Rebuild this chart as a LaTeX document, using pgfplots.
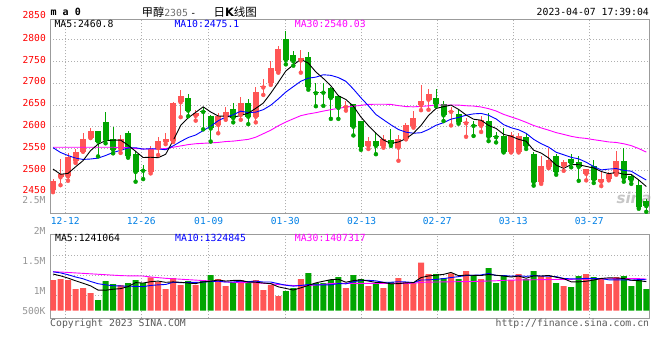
\documentclass[border=0pt]{standalone}
\usepackage{fontspec}
\setmainfont{DejaVu Sans}
\setmonofont{DejaVu Sans Mono}
\newfontfamily\cjk{Noto Sans CJK SC}
\newfontfamily\monof{DejaVu Sans Mono}
\newfontfamily\sansb{DejaVu Sans}
\usepackage{pgfplots}
\usepackage{pgfplotstable}
\pgfplotsset{compat=1.18}

\definecolor{upred}{RGB}{255,85,85}
\definecolor{dngreen}{RGB}{0,165,0}
\definecolor{pricered}{RGB}{255,0,0}
\definecolor{datecol}{RGB}{0,128,230}
\definecolor{ma10c}{RGB}{0,0,255}
\definecolor{ma30c}{RGB}{255,0,255}
\definecolor{volgray}{RGB}{150,150,150}
\definecolor{txtgray}{RGB}{90,90,90}
\definecolor{gridgray}{RGB}{175,175,175}
\definecolor{framegray}{RGB}{155,155,155}
\definecolor{titlegray}{RGB}{110,110,110}

\newcommand\labfont{\monof\fontsize{9.6}{11}\selectfont}
\newcommand\txtfont{\monof\fontsize{9.8}{11}\selectfont}

\pgfplotstableread{
i o h l c
0 2454 2481 2450 2476
1 2484 2525 2466 2492
2 2486 2539 2476 2530
3 2522 2548 2517 2541
4 2543 2586 2543 2572
5 2575 2596 2574 2591
9 2549 2580 2540 2573
13 2497 2555 2493 2550
14 2551 2577 2535 2568
15 2566 2585 2560 2571
16 2567 2657 2565 2655
17 2656 2685 2622 2671
19 2625 2639 2614 2631
22 2604 2631 2585 2625
23 2622 2646 2616 2634
25 2627 2668 2616 2654
27 2623 2690 2610 2680
28 2690 2709 2673 2694
29 2700 2750 2696 2734
30 2727 2784 2724 2778
33 2752 2775 2724 2757
39 2645 2660 2637 2648
42 2556 2577 2549 2567
44 2556 2580 2552 2571
46 2552 2581 2522 2571
47 2573 2608 2571 2605
48 2601 2636 2598 2619
49 2649 2696 2638 2660
50 2662 2687 2639 2674
53 2634 2646 2603 2637
55 2608 2621 2577 2610
57 2602 2624 2588 2615
61 2543 2588 2541 2580
62 2543 2586 2541 2579
65 2473 2533 2469 2510
66 2507 2552 2505 2523
68 2511 2524 2499 2520
71 2492 2504 2477 2503
73 2474 2499 2464 2480
74 2480 2496 2477 2492
75 2492 2545 2490 2522
}\redc

\pgfplotstableread{
i o h l c
6 2591 2591 2532 2566
7 2611 2634 2562 2570
8 2572 2600 2539 2547
10 2585 2590 2529 2532
11 2537 2545 2474 2496
12 2501 2512 2480 2499
18 2666 2676 2624 2637
20 2636 2645 2594 2634
21 2625 2626 2566 2596
24 2640 2655 2610 2620
26 2654 2664 2606 2623
31 2801 2820 2743 2753
32 2765 2774 2740 2750
34 2760 2772 2685 2691
35 2680 2700 2647 2677
36 2680 2700 2648 2678
37 2689 2690 2618 2666
38 2671 2672 2618 2643
40 2651 2653 2580 2600
41 2613 2614 2547 2554
43 2567 2588 2537 2556
45 2569 2594 2556 2560
51 2667 2687 2647 2651
52 2652 2658 2613 2626
54 2630 2640 2607 2611
56 2604 2613 2579 2602
58 2612 2632 2567 2577
59 2578 2588 2564 2576
60 2579 2598 2541 2543
63 2577 2586 2549 2556
64 2537 2543 2465 2473
67 2533 2537 2490 2497
69 2527 2537 2507 2517
70 2518 2533 2476 2508
72 2511 2524 2471 2479
76 2522 2552 2474 2482
77 2488 2492 2469 2477
78 2467 2477 2412 2416
79 2429 2435 2405 2418
}\greenc

\pgfplotstableread{
i ma5 ma10 ma30
0 2503 2552 2553
1 2491 2541 2553
2 2493 2534 2553
3 2508 2528 2553
4 2522.2 2525 2553
5 2545.2 2526 2553
6 2560 2528 2553
7 2568 2534 2553
8 2569.2 2541 2553
9 2569.4 2545.8 2552
10 2557.6 2551.4 2552
11 2543.6 2551.8 2550
12 2529.4 2548.7 2549
13 2530 2549.6 2549
14 2529 2549.2 2549
15 2536.8 2547.2 2550
16 2568.6 2556.1 2553
17 2603 2566.2 2556
18 2620.4 2575.2 2559
19 2633 2581 2561
20 2645.6 2591.2 2562
21 2633.8 2601.2 2563
22 2624.6 2613.8 2564
23 2624 2622.2 2566
24 2621.8 2627.4 2567
25 2625.8 2635.7 2569
26 2631.2 2632.5 2571
27 2642.2 2633.4 2576
28 2654.2 2639.1 2584
29 2677 2649.4 2592.1
30 2701.8 2663.8 2602.1
31 2727.8 2679.5 2610.8
32 2741.8 2692 2618.2
33 2754.4 2704.3 2625.4
34 2745.8 2711.4 2629.3
35 2725.6 2713.7 2632.2
36 2710.6 2719.2 2635.9
37 2693.8 2717.8 2639.1
38 2671 2712.7 2642.3
39 2662.4 2704.1 2644.8
40 2647 2686.3 2647.1
41 2622.2 2666.4 2649
42 2602.4 2648.1 2651.3
43 2585 2628 2651.5
44 2569.6 2616 2651.6
45 2561.6 2604.3 2651.2
46 2565 2593.6 2648.4
47 2572.6 2587.5 2646.2
48 2585.2 2585.1 2645.6
49 2603 2586.3 2646.6
50 2625.8 2593.7 2647.9
51 2641.8 2603.4 2649.8
52 2646 2609.3 2649.8
53 2649.6 2617.4 2649.9
54 2639.8 2621.4 2649.6
55 2627 2626.4 2648.1
56 2617.2 2629.5 2647.4
57 2615 2630.5 2645.3
58 2603 2626.3 2641.4
59 2596 2617.9 2636.1
60 2582.6 2604.8 2628.3
61 2578.2 2597.7 2622.5
62 2571 2593 2616.8
63 2566.8 2584.9 2610.1
64 2546.2 2571.1 2602.8
65 2539.6 2561.1 2597.3
66 2528.2 2553.2 2592.1
67 2511.8 2541.4 2586.5
68 2504.6 2535.7 2582.4
69 2513.4 2529.8 2578
70 2513 2526.3 2574.9
71 2509 2518.6 2573.2
72 2505.4 2508.6 2570.3
73 2497.4 2501 2567.8
74 2492.4 2502.9 2565.1
75 2495.2 2504.1 2563.9
76 2491 2500 2560.9
77 2490.6 2498 2556.6
78 2477.8 2487.6 2549.9
79 2463 2477.7 2541.8
}\matab

\pgfplotstableread{
i v
0 1363000
1 1407000
2 1363000
3 963000
4 1007000
5 785000
9 1141000
13 1481000
14 1274000
15 963000
16 1452000
17 1141000
19 1141000
22 1407000
23 1096000
25 1363000
27 1363000
28 919000
29 1141000
30 652000
33 1407000
39 1007000
42 1096000
44 1007000
46 1452000
47 1274000
48 1230000
49 2133000
50 1630000
53 1659000
55 1763000
57 1407000
61 1363000
62 1630000
65 1541000
66 1496000
68 1096000
71 1630000
73 1452000
74 1185000
75 1496000
}\redv

\pgfplotstableread{
i v
6 474000
7 1319000
8 1185000
10 1230000
11 1363000
12 1230000
18 1319000
20 1363000
21 1585000
24 1274000
26 1230000
31 874000
32 1007000
34 1674000
35 1230000
36 1230000
37 1363000
38 1496000
40 1585000
41 1407000
43 1185000
45 1274000
51 1630000
52 1452000
54 1407000
56 1585000
58 1896000
59 1230000
60 1585000
63 1407000
64 1763000
67 1230000
69 1052000
70 1541000
72 1496000
76 1541000
77 1096000
78 1363000
79 963000
}\greenv

\pgfplotstableread{
i m5 m10 m30
0 1630000 1730000 1730000
1 1550000 1680000 1720000
2 1450000 1600000 1700000
3 1330000 1500000 1680000
4 1221000 1420000 1660000
5 1105000 1300000 1640000
6 918000 1200000 1620000
7 910000 1150000 1600000
8 954000 1110000 1580000
9 981000 1101000 1560000
10 1070000 1087000 1550000
11 1248000 1083000 1550000
12 1230000 1070000 1540000
13 1289000 1122000 1500000
14 1316000 1148000 1470000
15 1262000 1166000 1440000
16 1280000 1264000 1420000
17 1262000 1246000 1400000
18 1230000 1259000 1380000
19 1203000 1259000 1360000
20 1283000 1273000 1340000
21 1310000 1295000 1320000
22 1363000 1313000 1300000
23 1318000 1274000 1280000
24 1345000 1274000 1260000
25 1345000 1314000 1250000
26 1274000 1292000 1245000
27 1265000 1314000 1240000
28 1230000 1274000 1220000
29 1203000 1274000 1200000
30 1061000 1203000 1160000
31 990000 1132000 1140000
32 919000 1092000 1120000
33 1016000 1123000 1110000
34 1123000 1163000 1120000
35 1238000 1150000 1140000
36 1310000 1150000 1170000
37 1381000 1150000 1210000
38 1399000 1207000 1215000
39 1265000 1194000 1215000
40 1336000 1287000 1215000
41 1372000 1341000 1215000
42 1318000 1350000 1215000
43 1256000 1327000 1215000
44 1256000 1261000 1215000
45 1194000 1265000 1215000
46 1203000 1287000 1215000
47 1238000 1278000 1215000
48 1247000 1252000 1220000
49 1473000 1364000 1260000
50 1544000 1369000 1270000
51 1579000 1391000 1275000
52 1615000 1427000 1280000
53 1701000 1474000 1285000
54 1556000 1514000 1290000
55 1582000 1563000 1295000
56 1573000 1576000 1300000
57 1564000 1590000 1310000
58 1612000 1656000 1320000
59 1576000 1566000 1330000
60 1541000 1561000 1350000
61 1496000 1535000 1360000
62 1541000 1553000 1365000
63 1443000 1527000 1370000
64 1550000 1563000 1375000
65 1541000 1541000 1380000
66 1567000 1532000 1385000
67 1487000 1514000 1390000
68 1425000 1434000 1390000
69 1283000 1416000 1395000
70 1283000 1412000 1400000
71 1310000 1439000 1405000
72 1363000 1425000 1410000
73 1434000 1430000 1415000
74 1461000 1372000 1420000
75 1452000 1367000 1425000
76 1434000 1372000 1430000
77 1354000 1359000 1430000
78 1336000 1385000 1425000
79 1292000 1376000 1407000
}\vmatab

\pgfplotsset{
  sinaax/.style={
    scale only axis, width=599pt,
    xmin=-0.36, xmax=79.4,
    axis line style={draw=framegray, line width=1pt},
    tick style={draw=none},
    xtick={1.64,11.76,20.73,30.93,41.1,51.17,61.29,71.41},
    grid=major,
    major grid style={draw=gridgray, line width=0.8pt, dash pattern=on 1pt off 2pt},
    scaled y ticks=false,
  },
  wick/.style={only marks, mark=none, forget plot, color=#1,
    error bars/.cd, y dir=plus, y explicit, error mark=none,
    error bar style={line width=1pt, draw=#1}},
  body/.style={only marks, mark=none, forget plot, color=#1,
    error bars/.cd, y dir=plus, y explicit, error mark=none,
    error bar style={line width=6pt, draw=#1}},
}

\begin{document}
\begin{tikzpicture}
\fill[white] (0,0) rectangle (660pt,360pt);
\path[use as bounding box] (0,0) rectangle (660pt,360pt);

\begin{scope}[x=1pt,y=-1pt,shift={(0pt,360pt)}]
\node[inner sep=0pt,text=black!22,font=\sansb\bfseries\itshape\fontsize{15}{16}\selectfont] at (634,198) {sina};
\end{scope}

% ---------- price panel ----------
\begin{axis}[sinaax,
  at={(50.3pt,146.7pt)}, anchor=south west, height=194.3pt,
  ymin=2401.5, ymax=2847,
  xticklabels={12-12,12-26,01-09,01-30,02-13,02-27,03-13,03-27},
  ytick={2400,2450,2500,2550,2600,2650,2700,2750,2800},
  yticklabels={2400,2450,2500,2550,2600,2650,2700,2750,2800},
  xticklabel style={font=\labfont, text=datecol, anchor=base, inner sep=0pt, yshift=-11pt},
  yticklabel style={font=\labfont, text=pricered, anchor=base east, inner sep=0pt, xshift=-4.3pt, yshift=-1.7pt},
]
\addplot[wick=upred] table[x=i, y=l, y error expr=\thisrow{h}-\thisrow{l}] \redc;
\addplot[wick=dngreen] table[x=i, y=l, y error expr=\thisrow{h}-\thisrow{l}] \greenc;
\addplot[body=upred] table[x=i, y=o, y error expr=\thisrow{c}-\thisrow{o}] \redc;
\addplot[body=dngreen] table[x=i, y=c, y error expr=\thisrow{o}-\thisrow{c}] \greenc;
\addplot[ma30c, line width=0.9pt, mark=none] table[x=i, y=ma30] \matab;
\addplot[ma10c, line width=0.9pt, mark=none] table[x=i, y=ma10] \matab;
\addplot[black, line width=0.9pt, mark=none] table[x=i, y=ma5] \matab;
\end{axis}

% ---------- volume panel ----------
\begin{axis}[sinaax,
  at={(50.3pt,41.7pt)}, anchor=south west, height=84pt,
  ymin=-338000, ymax=3396000,
  xticklabels={}, ytick={667000,1573000,2476000}, yticklabels={},
]
\addplot[ybar, bar width=6pt, bar shift=0pt, fill=upred, draw=none] table[x=i, y=v] \redv;
\addplot[ybar, bar width=6pt, bar shift=0pt, fill=dngreen, draw=none] table[x=i, y=v] \greenv;
\addplot[ma30c, line width=0.9pt, mark=none] table[x=i, y=m30] \vmatab;
\addplot[ma10c, line width=0.9pt, mark=none] table[x=i, y=m10] \vmatab;
\addplot[black, line width=0.9pt, mark=none] table[x=i, y=m5] \vmatab;
\end{axis}

% ---------- texts ----------
\begin{scope}[x=1pt,y=-1pt,shift={(0pt,360pt)}]
\node[anchor=west,inner sep=0pt,font=\monof\bfseries\fontsize{10}{11}\selectfont] at (50.5,12.3) {m a 0};
\node[anchor=west,inner sep=0pt] at (141.7,11.8) {\cjk\fontsize{11.2}{12}\selectfont 甲醇{\txtfont\color{titlegray}2305} {\txtfont -}};
\node[anchor=west,inner sep=0pt] at (213.3,11.8) {\cjk\fontsize{11.5}{12}\selectfont 日{\sansb\bfseries K}线图};
\node[anchor=east,inner sep=0pt,font=\txtfont] at (649,11.7) {2023-04-07 17:39:04};

\node[anchor=west,inner sep=0pt,font=\txtfont] at (54.3,24) {MA5:2460.8};
\node[anchor=west,inner sep=0pt,font=\txtfont,text=ma10c] at (174.3,24) {MA10:2475.1};
\node[anchor=west,inner sep=0pt,font=\txtfont,text=ma30c] at (294.7,24) {MA30:2540.03};

\node[anchor=west,inner sep=0pt,font=\txtfont] at (55,237.8) {MA5:1241064};
\node[anchor=west,inner sep=0pt,font=\txtfont,text=ma10c] at (175,237.8) {MA10:1324845};
\node[anchor=west,inner sep=0pt,font=\txtfont,text=ma30c] at (294.7,237.8) {MA30:1407317};

\node[anchor=east,inner sep=0pt,font=\labfont,text=pricered] at (46,15) {2850};
\node[anchor=east,inner sep=0pt,font=\labfont,text=volgray] at (45.7,200) {2.5M};
\node[anchor=east,inner sep=0pt,font=\labfont,text=volgray] at (45.7,230.7) {2M};
\node[anchor=east,inner sep=0pt,font=\labfont,text=volgray] at (45.7,260.7) {1.5M};
\node[anchor=east,inner sep=0pt,font=\labfont,text=volgray] at (45.7,290.7) {1M};
\node[anchor=east,inner sep=0pt,font=\labfont,text=volgray] at (45.7,310.7) {500K};

\node[anchor=base west,inner sep=0pt,font=\txtfont,text=txtgray] at (50,326) {Copyright 2023 SINA.COM};
\node[anchor=base east,inner sep=0pt,font=\txtfont,text=txtgray] at (649.3,326) {http://finance.sina.com.cn};
\end{scope}
\end{tikzpicture}
\end{document}
